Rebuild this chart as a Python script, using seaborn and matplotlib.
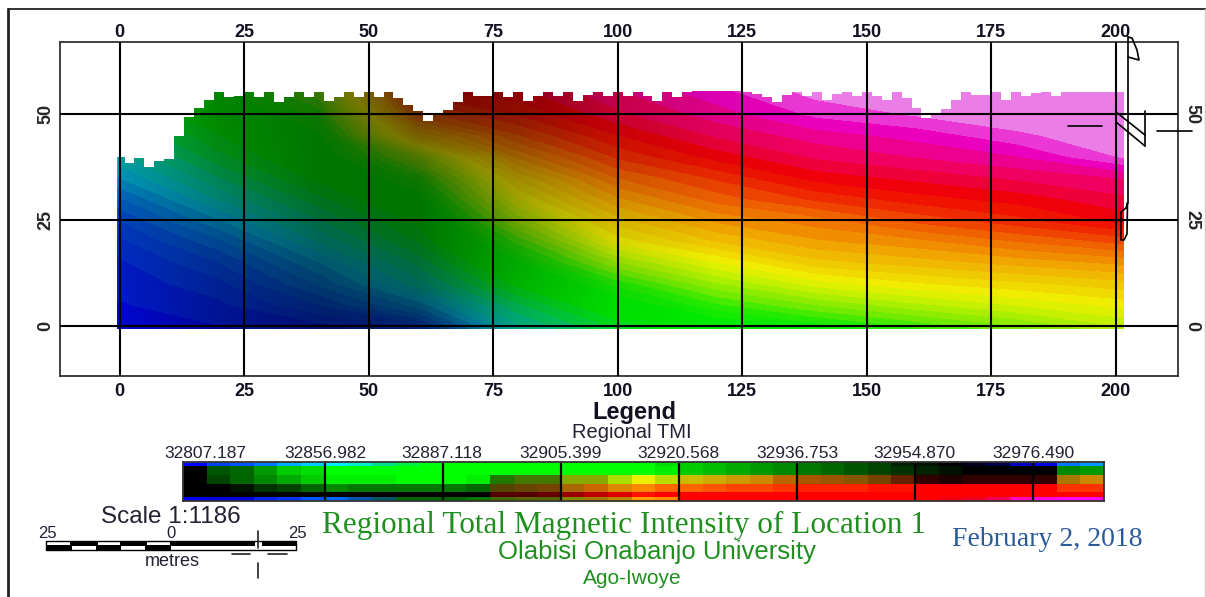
import numpy as np
import matplotlib
matplotlib.use('Agg')
import matplotlib.pyplot as plt
from matplotlib.colors import LinearSegmentedColormap, ListedColormap
from matplotlib.patches import Rectangle
import seaborn as sns

# grid stations of the survey (metres)
field_x = [-0.4, 20, 40, 60, 80, 100, 120, 140, 160, 180, 201.5]
field_y = [-0.6, 5, 10, 15, 20, 25, 30, 35, 40, 45, 50, 56]

# regional TMI, as position along the colour ramp (0-1)
tmi_rows = [
    [.02, .02, .03, .07, .24, .32, .37, .41, .45, .49, .54],
    [.02, .04, .09, .17, .29, .38, .45, .50, .54, .57, .60],
    [.03, .06, .14, .24, .35, .44, .52, .58, .61, .63, .65],
    [.04, .09, .18, .28, .40, .52, .59, .65, .67, .69, .71],
    [.06, .13, .23, .32, .46, .60, .66, .70, .72, .75, .78],
    [.09, .18, .27, .35, .53, .65, .71, .74, .78, .81, .85],
    [.13, .23, .31, .39, .59, .70, .76, .80, .83, .85, .88],
    [.18, .27, .35, .44, .64, .75, .80, .85, .87, .89, .91],
    [.22, .31, .38, .52, .71, .80, .85, .89, .91, .93, .98],
    [.26, .34, .40, .66, .77, .84, .89, .92, .94, .97, 1.0],
    [.30, .37, .44, .76, .82, .88, .92, .96, .98, 1.0, 1.0],
    [.34, .40, .50, .84, .86, .91, .95, .99, 1.0, 1.0, 1.0],
]

# how much darker the map gets in the hillshade (0 none, 1 black)
# one row every 20 m from y=0, one column every 20 m from x=0
shade_rows = [
    [.10, .35, .50, .50, .20, .05, 0, 0, 0, 0, 0],
    [.15, .35, .50, .50, .30, .10, 0, 0, 0, 0, 0],
    [.20, .40, .50, .50, .35, .15, .05, 0, 0, 0, 0],
    [.20, .45, .50, .50, .45, .20, .08, 0, 0, 0, 0],
]

# top of the surveyed area, one height every 2 m from x=0
edge_y = [40, 38.5, 39.8, 37.5, 39, 39.5, 45, 49.5, 51.5, 53.5,
          55.4, 54.2, 54.3, 55.3, 54.1, 55.4, 53, 54.2, 55.4, 54,
          55.4, 53.2, 54.2, 55.4, 54.1, 55.4, 54.1, 55.4, 53.9, 52.2,
          50.8, 48.5, 50.2, 51, 53, 55.4, 54.4, 54.4, 55.4, 54.2,
          55.4, 53.2, 54.4, 55.4, 54.4, 55.4, 53.2, 54.5, 55.4, 54.3,
          55.4, 54.3, 55.4, 54.4, 53.2, 55.2, 54.2, 55.4, 55.5, 55.5,
          55.5, 55.5, 55.5, 55.2, 54.8, 54, 53, 54.5, 55.4, 54.3,
          55.4, 53.4, 54.8, 55.4, 54.4, 55.3, 54.4, 53.4, 55.4, 53.8,
          51.5, 49.2, 50, 51.2, 53.5, 55.3, 54.5, 54.6, 55.4, 53.5,
          55.3, 54.4, 55, 55.3, 54.3, 55.4, 55.4, 55.4, 55.4, 55.4,
          55.4, 55.4]

# colour ramp nodes, evenly spaced
ramp = ['#0000e6', '#0030e0', '#0050dc', '#0082dc', '#00bedc', '#00d2a0', '#00e146',
        '#00eb00', '#00eb00', '#28eb00', '#82eb00', '#bef000', '#f0f000', '#f0c800',
        '#f0a000', '#f06e00', '#f03200', '#f00000', '#f00064', '#eb00c8', '#eb96eb']

xticks = [0, 25, 50, 75, 100, 125, 150, 175, 200]
yticks = [0, 25, 50]

# legend swatches, top row to bottom row, one colour per class
legend_rows = [
    '00f 04e 05f 07f 0af 0cf 0ef 0ec 0d8 0e4 0f1 0f0 0f0 0f0 0f0 0f0 0f0 0f0 0f0 0f0 0d0 0c0 0b0 0a0 090 080 070 060 050 040 020 010 000 002 004 00b 00d 07f 09f',
    '000 050 060 090 0c0 0d0 0f0 0f0 0f0 0f0 0f0 0f0 0f0 0f0 0f0 0f0 0f0 0f0 0f0 0f0 0e0 0c0 0b0 0a0 090 080 070 060 050 040 030 020 010 000 000 000 000 080 090',
    '000 040 060 080 0a0 0c0 0e0 0e0 0e0 0f0 0f0 0f0 0e0 270 470 470 8a0 8a0 ad0 ee0 bd0 cb0 ca0 c90 c80 b60 a50 950 850 740 620 300 200 300 300 300 300 a70 c80',
    '000 000 010 030 040 060 080 070 070 070 070 070 060 540 640 740 a60 c60 d80 f80 f60 f60 f50 f40 f40 f30 f20 f20 f20 f10 f10 f00 f00 f00 f00 f00 f00 f30 f30',
    '000 000 000 000 000 000 000 000 000 000 000 000 000 500 500 600 900 b00 d00 f10 f00 f00 f00 f00 f00 f00 f00 f00 f00 f00 f00 f00 f00 f00 f00 f00 f00 f00 f00',
    '00e 00d 00d 02e 03e 05f 06e 05a 056 060 060 060 070 460 560 560 880 a70 b80 f90 f80 f00 f00 f00 f00 f00 f00 f00 f00 f00 f00 f00 e01 e02 e05 f0b f0d f0e f0e',
]
legend_row_repeat = [1, 2, 2, 2, 1, 1]
legend_breaks = [6, 11, 16, 21, 26, 31, 36]
legend_labels = ['32807.187', '32856.982', '32887.118', '32905.399',
                 '32920.568', '32936.753', '32954.870', '32976.490']
legend_label_px = [205, 325, 442, 561, 678, 797, 914, 1033]

W, H = 1206, 597
sns.set_theme(style='white')
plt.rcParams['font.family'] = ['Liberation Sans', 'DejaVu Sans']
fig = plt.figure(figsize=(W / 100, H / 100), dpi=100)


def px_axes(x0, y0, x1, y1):
    return fig.add_axes([x0 / W, 1 - y1 / H, (x1 - x0) / W, (y1 - y0) / H])


# main map
ax = px_axes(60, 42, 1178, 376)
tmi_cmap = sns.blend_palette(ramp, n_colors=256, as_cmap=True)
shade_cmap = LinearSegmentedColormap.from_list('shade', [(0, 0, 0, 0), (0, 0, 0, 1)])
ax.contourf(field_x, field_y, np.array(tmi_rows), levels=np.linspace(0, 1, 45), cmap=tmi_cmap,
            vmin=0, vmax=1, zorder=1, antialiased=False)
# the shade table goes on top as a smooth see-through image, kept inside the surveyed box
shade_im = ax.imshow(np.array(shade_rows), origin='lower', extent=(-10, 210, -10, 70), aspect='auto',
                     cmap=shade_cmap, vmin=0, vmax=1, interpolation='bilinear',
                     interpolation_stage='rgba', zorder=1.1)
shade_im.set_clip_path(Rectangle((-0.4, -0.6), 201.9, 56.6, transform=ax.transData))
edge_x = np.arange(len(edge_y) + 1) * 2 - 1
ax.fill_between(edge_x, edge_y + edge_y[-1:], 70, step='post', color='white', lw=0, zorder=1.2)

ax.set_xlim(-11.95, 212.5)
ax.set_ylim(-11.8, 67.1)
ax.set_xticks(xticks)
ax.set_yticks(yticks)
ax.grid(True, color='black', linewidth=1.5)
ax.set_axisbelow(False)
ax.tick_params(axis='x', length=0, pad=5, labelsize=13)
ax.tick_params(axis='y', length=0, pad=4, labelsize=13, right=True, labelright=True)
for lab in ax.get_xticklabels():
    lab.set_fontweight('bold')
    lab.set_color('#111122')
for tick in ax.yaxis.get_major_ticks():
    tick.label1.set_rotation(90)
    tick.label1.set_va('center')
    tick.label1.set_fontweight('bold')
    tick.label2.set_rotation(270)
    tick.label2.set_va('center')
    tick.label2.set_fontweight('bold')
top = ax.secondary_xaxis('top')
top.set_xticks(xticks)
top.tick_params(length=0, pad=1, labelsize=13)
for lab in top.get_xticklabels():
    lab.set_fontweight('bold')
    lab.set_color('#111122')
top.spines['top'].set_visible(False)
for s in ax.spines.values():
    s.set_visible(True)
    s.set_color('#333333')
    s.set_linewidth(1.3)

# legend bar
leg = px_axes(183, 462, 1104, 501)
tokens = [r.split() for r in legend_rows]
uniq = sorted({t for r in tokens for t in r})
idx = np.array([[uniq.index(t) for t in r] for r in tokens])
idx = np.repeat(idx, legend_row_repeat, axis=0)
sns.heatmap(idx, ax=leg, cmap=ListedColormap(['#' + u for u in uniq]), vmin=-0.5, vmax=len(uniq) - 0.5,
            cbar=False, xticklabels=False, yticklabels=False)
for b in legend_breaks:
    leg.axvline(b, color='black', lw=1.6)
for s in leg.spines.values():
    s.set_visible(True)
    s.set_color('#333333')
    s.set_linewidth(1.3)

# everything else is placed in page pixels
page = fig.add_axes([0, 0, 1, 1], facecolor='none')
page.set_xlim(0, W)
page.set_ylim(H, 0)
page.axis('off')

page.plot([8, 8], [9, 597], color='#222222', lw=2)
page.plot([8, 1206], [9, 9], color='#222222', lw=1.3)
page.plot([1205, 1205], [9, 597], color='#cccccc', lw=1)

# stray strokes near the right of the map
strokes = [
    ([1127.5, 1127.5], [37, 203]),
    ([1128, 1132, 1137, 1139, 1128], [37, 38, 50, 60, 57]),
    ([1127.5, 1126, 1121, 1121, 1124, 1127, 1127.5], [203, 208, 212, 240, 240, 234, 203]),
    ([1116, 1145], [112, 135]),
    ([1116, 1145], [122, 146]),
    ([1145, 1145], [111, 146]),
    ([1068, 1102], [126, 126]),
    ([1157, 1192], [131, 131]),
]
for sx, sy in strokes:
    page.plot(sx, sy, color='black', lw=1.2)

for lab, x in zip(legend_labels, legend_label_px):
    page.text(x, 454, lab, ha='center', va='center', fontsize=12.5, color='#222233')

page.text(634, 412, 'Legend', ha='center', va='center', fontsize=17, fontweight='bold', color='#111122')
page.text(632, 433, 'Regional TMI', ha='center', va='center', fontsize=14.5, color='#222233')

green = '#1f8f1f'
page.text(624, 525, 'Regional Total Magnetic Intensity of Location 1', ha='center', va='center',
          fontsize=22.5, family='Liberation Serif', color=green)
page.text(657, 552, 'Olabisi Onabanjo University', ha='center', va='center', fontsize=18.5, color=green)
page.text(632, 578, 'Ago-Iwoye', ha='center', va='center', fontsize=15, color=green)
page.text(1047, 540, 'February 2, 2018', ha='center', va='center', fontsize=20,
          family='Liberation Serif', color='#2a5a9a')

# scale bar
page.text(171, 517, 'Scale 1:1186', ha='center', va='center', fontsize=17.5, color='#222233')
page.text(47, 534, '25', ha='center', va='center', fontsize=12, color='#222233')
page.text(171, 534, '0', ha='center', va='center', fontsize=12, color='#222233')
page.text(297, 534, '25', ha='center', va='center', fontsize=12, color='#222233')
page.text(172, 562, 'metres', ha='center', va='center', fontsize=13, color='#222233')
scale_upper = [(70, 28), (120, 27), (170, 85), (262, 34)]
scale_lower = [(46, 26), (96, 25), (145, 26)]
page.broken_barh(scale_upper, (541, 4.5), color='black', lw=0)
page.broken_barh(scale_lower, (545, 5), color='black', lw=0)
page.plot([46, 296, 296, 46, 46], [541, 541, 550, 550, 541], color='black', lw=1)
page.plot([258, 258], [531, 548], color='#222222', lw=1.2)
page.plot([258, 258], [563, 578], color='#222222', lw=1.2)
page.plot([232, 250], [554, 554], color='#222222', lw=1.2)
page.plot([268, 287], [554, 554], color='#222222', lw=1.2)

fig.savefig('out.png', dpi=100)
